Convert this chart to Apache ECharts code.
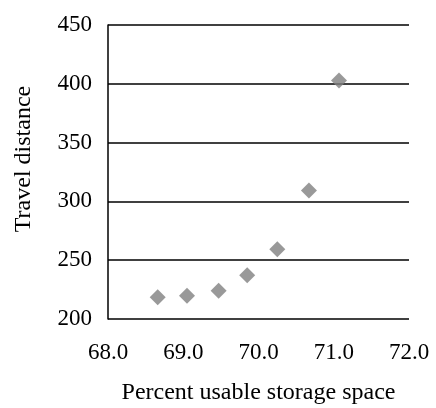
<!DOCTYPE html>
<html>
<head>
<meta charset="utf-8">
<script src="https://cdn.jsdelivr.net/npm/echarts@6/dist/echarts.min.js"></script>
<style>html,body{margin:0;padding:0;background:#fff}#c{width:436px;height:408px}</style>
</head>
<body>
<div id="c"></div>
<script>
const xValues = [68.66, 69.05, 69.47, 69.85, 70.25, 70.67, 71.07];
const yValues = [218.5, 219.8, 224.1, 237.2, 259.4, 309.3, 402.8];
const xTitle = 'Percent usable storage space';
const yTitle = 'Travel distance';

const chart = echarts.init(document.getElementById('c'), null, {renderer: 'canvas'});
const font = 'Liberation Serif';
chart.setOption({
  animation: false,
  grid: {left: 108, right: 27, top: 25, bottom: 89, containLabel: false, outerBoundsMode: 'none'},
  xAxis: {
    type: 'value', min: 68, max: 72, interval: 1,
    name: xTitle, nameLocation: 'middle', nameGap: 62,
    nameTextStyle: {fontFamily: font, fontSize: 24, color: '#000'},
    axisLine: {show: false},
    axisTick: {show: false},
    splitLine: {show: false},
    axisLabel: {fontFamily: font, fontSize: 23, color: '#000', margin: 22,
      formatter: v => v.toFixed(1)}
  },
  yAxis: {
    type: 'value', min: 200, max: 450, interval: 50,
    name: yTitle, nameLocation: 'middle', nameGap: 72,
    nameTextStyle: {fontFamily: font, fontSize: 24, color: '#000', padding: [0, 0, 0, 26]},
    axisLine: {show: true, lineStyle: {color: '#000', width: 1.5}},
    axisTick: {show: false},
    splitLine: {show: true, lineStyle: {color: '#000', width: 1.5}},
    axisLabel: {fontFamily: font, fontSize: 23, color: '#000', margin: 16}
  },
  series: [{
    type: 'scatter',
    symbol: 'diamond',
    symbolSize: 16,
    itemStyle: {color: '#7f7f7f'},
    data: xValues.map((x, i) => [x, yValues[i]])
  }]
});
</script>
</body>
</html>
